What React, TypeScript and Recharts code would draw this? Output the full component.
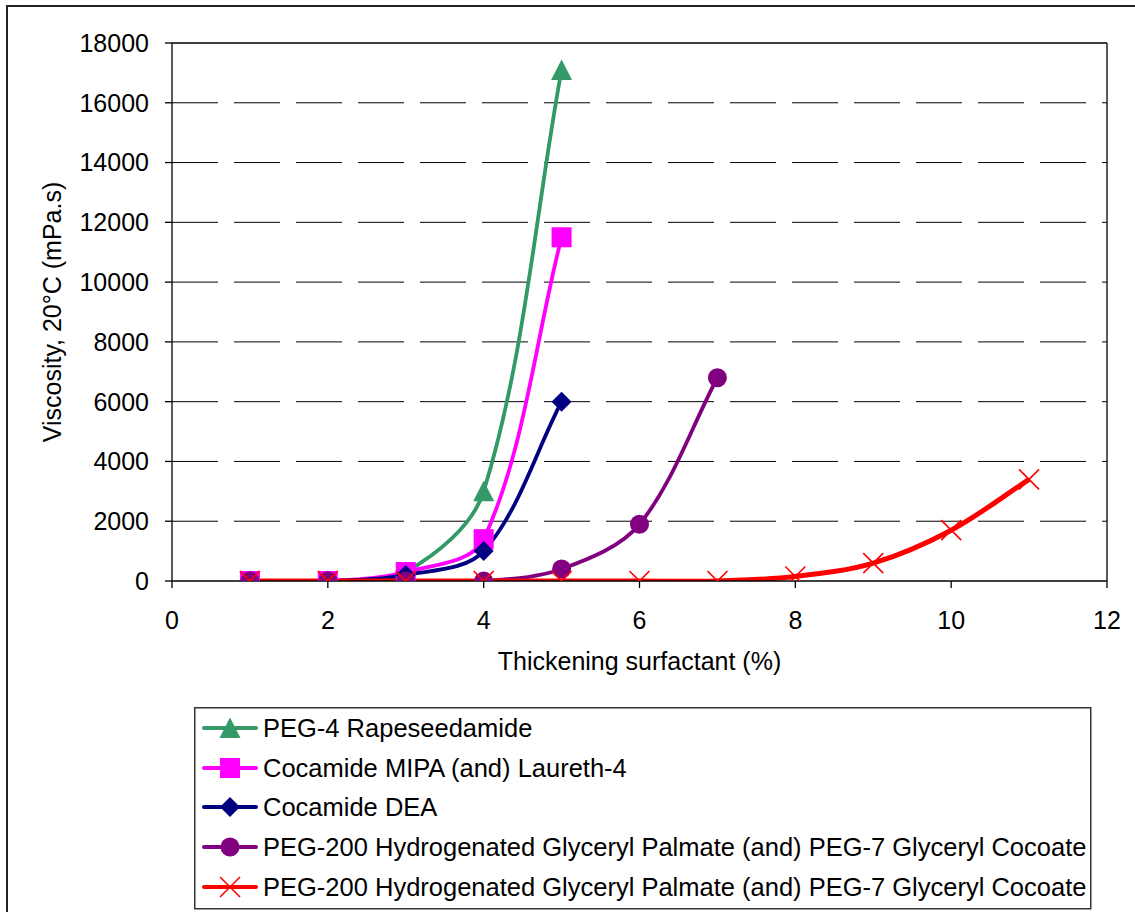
import React from 'react';
import { LineChart, Line, XAxis, YAxis, CartesianGrid, ReferenceLine } from 'recharts';

// ---------- data ----------
const xGreen = [1, 2, 3, 4, 5];
const yGreen = [0, 0, 300, 3000, 17100];
const xMagenta = [1, 2, 3, 4, 5];
const yMagenta = [0, 0, 300, 1400, 11500];
const xNavy = [1, 2, 3, 4, 5];
const yNavy = [0, 0, 200, 1000, 6000];
const xPurple = [1, 2, 3, 4, 5, 6, 7];
const yPurple = [0, 0, 0, 0, 400, 1900, 6800];
const xRed = [1, 2, 3, 4, 5, 6, 7, 8, 9, 10, 11];
const yRed = [0, 0, 0, 0, 0, 0, 0, 150, 600, 1700, 3400];

const seriesNames = [
  'PEG-4 Rapeseedamide',
  'Cocamide MIPA (and) Laureth-4',
  'Cocamide DEA',
  'PEG-200 Hydrogenated Glyceryl Palmate (and) PEG-7 Glyceryl Cocoate',
  'PEG-200 Hydrogenated Glyceryl Palmate (and) PEG-7 Glyceryl Cocoate',
];
const seriesColors = ['#339966', '#FF00FF', '#000080', '#800080', '#FF0000'];
const seriesMarkers = ['triangle', 'square', 'diamond', 'circle', 'cross'];

const xTicks = [0, 2, 4, 6, 8, 10, 12];
const yTicks = [0, 2000, 4000, 6000, 8000, 10000, 12000, 14000, 16000, 18000];
const xTitle = 'Thickening surfactant (%)';
const yTitle = 'Viscosity, 20°C (mPa.s)';

const toRows = (xs: number[], ys: number[]) => xs.map((x, i) => ({ x, y: ys[i] }));
const seriesData = [
  toRows(xGreen, yGreen),
  toRows(xMagenta, yMagenta),
  toRows(xNavy, yNavy),
  toRows(xPurple, yPurple),
  toRows(xRed, yRed),
];

const FONT = '"Liberation Sans", Arial, sans-serif';

// Excel-like smoothing: Bezier with tangents weighted by neighbouring segment lengths
const excelSmooth = (context: any) => {
  let xs: number[] = [];
  let ys: number[] = [];
  return {
    areaStart() {},
    areaEnd() {},
    lineStart() {
      xs = [];
      ys = [];
    },
    point(x: number, y: number) {
      xs.push(+x);
      ys.push(+y);
    },
    lineEnd() {
      const n = xs.length;
      if (!n) return;
      context.moveTo(xs[0], ys[0]);
      if (n === 1) return;
      const len = (i: number, j: number) => Math.hypot(xs[j] - xs[i], ys[j] - ys[i]);
      // control points out of / into each point
      const outC: number[][] = [];
      const inC: number[][] = [];
      for (let i = 0; i < n; i++) {
        const a = Math.max(i - 1, 0);
        const b = Math.min(i + 1, n - 1);
        const dx = xs[b] - xs[a];
        const dy = ys[b] - ys[a];
        const lp = i > 0 ? len(i - 1, i) : 0;
        const ln = i < n - 1 ? len(i, i + 1) : 0;
        const tot = lp + ln || 1;
        const f = 1 / 3;
        outC.push([xs[i] + dx * f * (ln / tot), ys[i] + dy * f * (ln / tot)]);
        inC.push([xs[i] - dx * f * (lp / tot), ys[i] - dy * f * (lp / tot)]);
      }
      for (let i = 0; i < n - 1; i++) {
        context.bezierCurveTo(outC[i][0], outC[i][1], inC[i + 1][0], inC[i + 1][1], xs[i + 1], ys[i + 1]);
      }
    },
  };
};

const Marker = ({ kind, cx, cy, color }: { kind: string; cx: number; cy: number; color: string }) => {
  if (cx == null || cy == null || isNaN(cx) || isNaN(cy)) return null;
  switch (kind) {
    case 'triangle':
      return <polygon points={`${cx},${cy - 10.5} ${cx - 10.5},${cy + 10} ${cx + 10.5},${cy + 10}`} fill={color} />;
    case 'square':
      return <rect x={cx - 10} y={cy - 10} width={20} height={20} fill={color} />;
    case 'diamond':
      return <polygon points={`${cx},${cy - 10} ${cx + 10},${cy} ${cx},${cy + 10} ${cx - 10},${cy}`} fill={color} />;
    case 'circle':
      return <circle cx={cx} cy={cy} r={9.5} fill={color} />;
    case 'cross':
      return (
        <g stroke={color} strokeWidth={1.6}>
          <line x1={cx - 10} y1={cy - 10} x2={cx + 10} y2={cy + 10} />
          <line x1={cx - 10} y1={cy + 10} x2={cx + 10} y2={cy - 10} />
        </g>
      );
    default:
      return null;
  }
};

const makeDot = (kind: string, color: string) => (props: any) => (
  <g key={`${kind}-${props.index}`}>
    <Marker kind={kind} cx={props.cx} cy={props.cy} color={color} />
  </g>
);

const LegendBox = () => {
  const rowY = [21, 61, 100, 140, 180];
  return (
    <svg width={898} height={203} style={{ display: 'block' }}>
      <rect x={0.75} y={0.75} width={896} height={201} fill="#fff" stroke="#333" strokeWidth={1.5} />
      {seriesNames.map((name, i) => (
        <g key={i}>
          <line x1={10} x2={62} y1={rowY[i]} y2={rowY[i]} stroke={seriesColors[i]} strokeWidth={4} strokeLinecap="round" />
          <Marker kind={seriesMarkers[i]} cx={36} cy={rowY[i]} color={seriesColors[i]} />
          <text x={69} y={rowY[i] + 9} fontFamily={FONT} fontSize={25.5} fill="#000">
            {name}
          </text>
        </g>
      ))}
    </svg>
  );
};

const YTitle = (props: any) => {
  const vb = props.viewBox || {};
  const cy = vb.y + vb.height / 2;
  return (
    <text x={52} y={cy} transform={`rotate(-90, 52, ${cy})`} textAnchor="middle" dominantBaseline="central" fontFamily={FONT} fontSize={25} fill="#000">
      {yTitle}
    </text>
  );
};

const XTitle = (props: any) => {
  const vb = props.viewBox || {};
  const cx = vb.x + vb.width / 2;
  return (
    <text x={cx} y={670} textAnchor="middle" fontFamily={FONT} fontSize={25} fill="#000">
      {xTitle}
    </text>
  );
};

export default function App() {
  return (
    <div style={{ position: 'absolute', left: 0, top: 0, width: 1135, height: 912, background: '#fff', overflow: 'hidden' }}>
      <div
        style={{
          position: 'absolute',
          left: 6,
          top: 5,
          width: 1140,
          height: 920,
          border: '2px solid #222',
          boxSizing: 'border-box',
        }}
      />
      <LineChart width={1135} height={912} margin={{ top: 43, right: 28, left: 0, bottom: 271 }} style={{ position: 'absolute', left: 0, top: 0 }}>
        <CartesianGrid vertical={false} stroke="#000" strokeWidth={1} strokeDasharray="46 16" horizontalValues={[2000, 4000, 6000, 8000, 10000, 12000, 14000, 16000]} />
        <XAxis
          type="number"
          dataKey="x"
          domain={[0, 12]}
          ticks={xTicks}
          allowDataOverflow
          height={60}
          tickSize={7}
          tickMargin={23}
          stroke="#000"
          strokeWidth={1.3}
          tick={{ fill: '#000', fontFamily: FONT, fontSize: 25 }}
          label={<XTitle />}
        />
        <YAxis
          type="number"
          domain={[0, 18000]}
          ticks={yTicks}
          allowDataOverflow
          width={172}
          tickSize={7}
          tickMargin={16}
          stroke="#000"
          strokeWidth={1.3}
          tick={{ fill: '#000', fontFamily: FONT, fontSize: 25 }}
          label={<YTitle />}
        />
        <ReferenceLine y={18000} stroke="#000" strokeWidth={1.3} />
        <ReferenceLine x={12} stroke="#000" strokeWidth={1.3} />
        {seriesData.map((data, i) => (
          <Line
            key={i}
            data={data}
            dataKey="y"
            name={seriesNames[i]}
            type={excelSmooth as any}
            stroke={seriesColors[i]}
            strokeWidth={i === 4 ? 5 : 3.8}
            dot={makeDot(seriesMarkers[i], seriesColors[i])}
            activeDot={false}
            isAnimationActive={false}
          />
        ))}
      </LineChart>
      <div style={{ position: 'absolute', left: 194, top: 707 }}>
        <LegendBox />
      </div>
    </div>
  );
}
